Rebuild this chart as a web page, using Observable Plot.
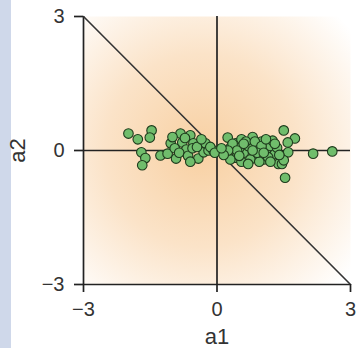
<!DOCTYPE html>
<html><head><meta charset="utf-8">
<script src="https://cdn.jsdelivr.net/npm/d3@7"></script>
<script src="https://cdn.jsdelivr.net/npm/@observablehq/plot@0.6"></script>
<style>
html,body{margin:0;padding:0;background:#fff;}
#wrap{position:relative;width:358px;height:348px;overflow:hidden;}
#strip{position:absolute;left:0;top:0;width:11px;height:348px;background:#cfd8ea;}
#chart{position:absolute;left:0;top:0;}
</style></head>
<body><div id="wrap"><div id="strip"></div><div id="chart"></div></div>
<script>
const ticks = [-3, 0, 3];
const diagX = [-3, 3];
const diagY = [3, -3];
const a1 = [-1.99,-1.78,-1.47,-1.51,-1.70,-1.61,-1.68,-1.27,-1.11,-1.04,-0.92,-0.82,-0.78,-0.69,-0.60,-0.53,-0.42,-0.30,-0.26,-0.19,-0.08,-0.95,-0.85,-0.65,-0.55,-0.45,-0.35,-0.72,-1.00,-0.60,-0.15,-0.05,
 0.24,0.31,0.42,0.42,0.55,0.60,0.70,0.80,0.85,0.90,1.00,1.05,1.10,1.20,1.25,1.30,1.38,1.46,1.50,1.75,1.59,1.35,1.60,1.50,2.16,2.59,1.53,0.30,0.50,0.65,0.75,0.95,1.15,0.35,0.55,0.70,0.85,1.00,1.10,1.20,0.45,0.60,0.25,0.15,0.10,0.90,1.30,0.80,1.40,0.50,1.05];
const a2 = [0.38,0.25,0.45,0.29,-0.04,-0.17,-0.33,-0.11,-0.07,0.16,-0.18,0.38,0.18,0.02,0.34,0.16,-0.18,-0.04,0.16,0.00,0.00,0.05,-0.05,-0.12,0.05,0.08,0.25,0.28,0.30,-0.25,0.08,-0.05,
 0.29,0.07,0.16,-0.16,0.25,-0.05,0.10,0.30,-0.10,0.05,0.20,-0.20,0.00,0.10,0.22,-0.08,-0.30,-0.30,0.45,0.27,0.18,0.06,-0.04,-0.22,-0.07,-0.02,-0.61,-0.20,0.05,0.20,-0.20,-0.25,-0.15,0.15,-0.25,-0.30,0.20,0.10,0.25,-0.25,0.00,0.15,0.00,-0.10,0.05,-0.05,0.15,0.00,-0.10,-0.12,-0.05];
const pts = a1.map((x,i)=>({x, y:a2[i]}));
const diag = diagX.map((x,i)=>({x, y:diagY[i]}));
const fmt = d => d < 0 ? "\u2212" + Math.abs(d) : String(d);

const plot = Plot.plot({
  width: 358, height: 348,
  marginLeft: 83, marginRight: 8, marginTop: 16, marginBottom: 64,
  style: {fontFamily: "Liberation Sans, Arial, sans-serif", color: "#333", background: "transparent", overflow: "visible"},
  x: {domain: [-3, 3]},
  y: {domain: [-3, 3]},
  marks: [
    Plot.frame({fill: "url(#bgGrad)", stroke: null}),
    Plot.ruleX([-3, 0], {y1: -3, y2: 3, stroke: "#222", strokeWidth: 1.7}),
    Plot.ruleY([-3, 0], {x1: -3, x2: 3, stroke: "#222", strokeWidth: 1.7}),
    Plot.line(diag, {x: "x", y: "y", stroke: "#333", strokeWidth: 1.6}),
    Plot.dot(pts, {x: "x", y: "y", r: 4.8, fill: "#70bd6c", stroke: "#1e3a1c", strokeWidth: 1.1}),
    Plot.axisX({ticks: ticks, tickSize: 8, tickPadding: 9, stroke: "#222", strokeWidth: 1.7, label: "a1", labelAnchor: "center", labelArrow: "none", labelOffset: 59, tickFormat: fmt}),
    Plot.axisY({ticks: ticks, tickSize: 9, tickPadding: 10, stroke: "#222", strokeWidth: 1.7, label: "a2", labelAnchor: "center", labelArrow: "none", labelOffset: 74, tickFormat: fmt})
  ]
});
const ns = "http://www.w3.org/2000/svg";
const defs = document.createElementNS(ns, "defs");
defs.innerHTML = '<radialGradient id="bgGrad" cx="0.44" cy="0.5" r="0.72"><stop offset="0" stop-color="#f8d0a2"/><stop offset="0.5" stop-color="#fbe3c8"/><stop offset="1" stop-color="#ffffff"/></radialGradient>';
plot.insertBefore(defs, plot.firstChild);
plot.querySelectorAll("text").forEach(t => {
  const s = t.textContent.trim();
  const big = (s === "a1" || s === "a2");
  t.style.fontSize = big ? "22px" : "20px";
  t.style.fill = "#333";
});
document.getElementById("chart").appendChild(plot);
</script></body></html>
